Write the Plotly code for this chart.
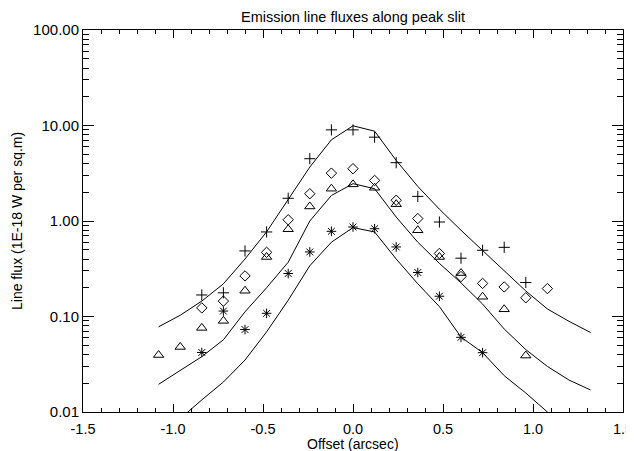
import plotly.graph_objects as go

# ---- observed points (offset in arcsec) ----
offset_obs = [-1.08, -0.96, -0.84, -0.72, -0.60, -0.48, -0.36, -0.24, -0.12, 0.00,
              0.12, 0.24, 0.36, 0.48, 0.60, 0.72, 0.84, 0.96, 1.08]
flux_plus = [None, None, 0.168, 0.177, 0.486, 0.768, 1.73, 4.49, 9.0, 9.0,
             7.55, 4.08, 1.81, 0.976, 0.408, 0.494, 0.53, 0.227, None]
flux_diamond = [None, None, 0.123, 0.145, 0.266, 0.47, 1.03, 1.93, 3.17, 3.53,
                2.66, 1.65, 1.06, 0.457, 0.262, 0.222, 0.204, 0.157, 0.196]
flux_triangle = [0.0395, 0.048, 0.076, 0.090, 0.186, 0.42, 0.82, 1.42, 2.18, 2.42,
                 2.23, 1.50, 0.80, 0.42, 0.285, 0.161, 0.119, 0.039, None]
flux_star = [None, None, 0.042, 0.114, 0.073, 0.108, 0.282, 0.474, 0.78, 0.865,
             0.83, 0.535, 0.289, 0.163, 0.0605, 0.0418, None, None, None]

# ---- model curves ----
offset_model = [-1.08, -0.96, -0.84, -0.72, -0.60, -0.48, -0.36, -0.24, -0.12, 0.00,
                0.12, 0.24, 0.36, 0.48, 0.60, 0.72, 0.84, 0.96, 1.08, 1.20, 1.32]
model_top = [0.078, 0.103, 0.145, 0.22, 0.40, 0.77, 1.68, 3.67, 7.08, 9.93,
             8.72, 4.31, 2.3, 1.33, 0.80, 0.49, 0.30, 0.185, 0.12, 0.089, 0.068]
model_mid = [0.0195, 0.027, 0.038, 0.057, 0.112, 0.20, 0.37, 1.0, 1.85, 2.46,
             2.18, 1.1, 0.60, 0.36, 0.225, 0.135, 0.074, 0.045, 0.030, 0.0216, 0.017]
model_bot = [0.006, 0.0085, 0.0134, 0.0206, 0.035, 0.069, 0.148, 0.34, 0.60, 0.853,
             0.768, 0.40, 0.22, 0.127, 0.061, 0.0418, 0.024, 0.0158, 0.010, 0.007, 0.005]

# ---- ticks ----
x_tick_vals = [-1.5, -1.0, -0.5, 0.0, 0.5, 1.0, 1.5]
x_tick_text = ["-1.5", "-1.0", "-0.5", "0.0", "0.5", "1.0", "1.5"]
y_tick_vals = [0.01, 0.1, 1, 10, 100]
y_tick_text = ["0.01", "0.10", "1.00", "10.00", "100.00"]
y_minor_vals = [m * 10.0 ** e for e in range(-2, 2) for m in range(2, 10)]

FONT = "Liberation Sans, Arial, Helvetica, sans-serif"
# page body has an 8px margin; layout is offset so the frame lands at 83..623 x 30..412
OFF = 8
W, H = 634, 451
L, T = 83 - OFF, 30 - OFF
R, B = W - (623 - OFF), H - (412 - OFF)
PH = H - T - B
PW = W - L - R

fig = go.Figure()
for ys in (model_top, model_mid, model_bot):
    fig.add_trace(go.Scatter(x=offset_model, y=ys, mode="lines",
                             line=dict(color="black", width=1), showlegend=False))

marker_specs = [
    (flux_plus, "cross-thin-open", 8),
    (flux_diamond, "diamond-open", 8),
    (flux_triangle, "triangle-up-open", 9),
    (flux_star, "asterisk-open", 8),
]
for ys, sym, sz in marker_specs:
    fig.add_trace(go.Scatter(x=offset_obs, y=ys, mode="markers",
                             marker=dict(symbol=sym, size=sz, color="black",
                                         line=dict(color="black", width=1)),
                             showlegend=False))

# invisible trace so the minor-tick overlay axes are drawn
fig.add_trace(go.Scatter(x=[None], y=[None], xaxis="x2", yaxis="y2",
                         mode="markers", showlegend=False, hoverinfo="skip"))

fig.update_layout(
    width=W, height=H,
    margin=dict(l=L, r=R, t=T, b=B),
    paper_bgcolor="white", plot_bgcolor="white",
    font=dict(family=FONT, size=15, color="black"),
    title=dict(text="Emission line fluxes along peak slit", xref="paper", x=0.5,
               xanchor="center", y=1 - (17 - OFF) / H, yanchor="middle",
               font=dict(size=14.5, family=FONT, color="black")),
    xaxis=dict(
        range=[-1.5, 1.5], tickmode="array", tickvals=x_tick_vals, ticktext=x_tick_text,
        ticks="inside", ticklen=8, tickwidth=1, tickcolor="black",
        showline=True, linecolor="black", linewidth=1, mirror="allticks",
        showgrid=False, zeroline=False, ticklabelstandoff=4, automargin=False,
        tickfont=dict(size=14.5),
    ),
    yaxis=dict(
        type="log", range=[-2, 2], tickmode="array", tickvals=y_tick_vals,
        ticktext=y_tick_text,
        ticks="inside", ticklen=11, tickwidth=1, tickcolor="black",
        showline=True, linecolor="black", linewidth=1, mirror="allticks",
        showgrid=False, zeroline=False, ticklabelstandoff=0, automargin=False,
    ),
    xaxis2=dict(
        overlaying="x", anchor="y2", range=[-1.5, 1.5], tickmode="linear", tick0=0,
        dtick=0.1, ticks="inside", ticklen=4, tickwidth=1, tickcolor="black",
        showticklabels=False, showline=True, linecolor="black", linewidth=1,
        mirror="allticks", showgrid=False, zeroline=False, automargin=False,
    ),
    yaxis2=dict(
        overlaying="y", anchor="x2", type="log", range=[-2, 2], tickmode="array",
        tickvals=y_minor_vals, ticks="inside", ticklen=6, tickwidth=1,
        tickcolor="black", showticklabels=False, showline=True, linecolor="black",
        linewidth=1, mirror="allticks", showgrid=False, zeroline=False,
        automargin=False,
    ),
    annotations=[
        dict(text="Offset (arcsec)", xref="paper", yref="paper", x=0.5,
             y=-(443.5 - 412) / PH, xanchor="center", yanchor="middle",
             showarrow=False, font=dict(size=14, family=FONT, color="black")),
        dict(text="Line flux (1E-18 W per sq.m)", xref="paper", yref="paper",
             x=(17 - 83) / PW, y=0.5, xanchor="center", yanchor="middle",
             textangle=-90, showarrow=False,
             font=dict(size=14, family=FONT, color="black")),
    ],
)

fig.write_html("out.html")
